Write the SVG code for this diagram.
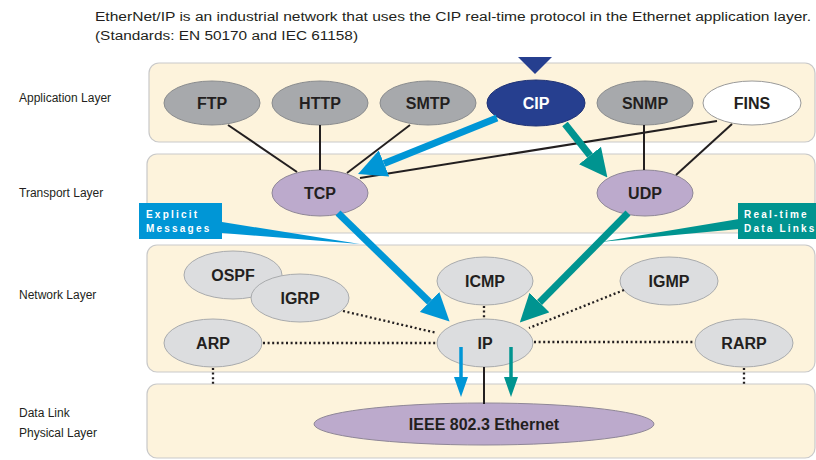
<svg xmlns="http://www.w3.org/2000/svg" width="816" height="460" viewBox="0 0 816 460">
  <defs>
    <style>
      .layer { fill: #fdf3dc; stroke: #c9c9c9; stroke-width: 1.2; }
      .side { font-family: "Liberation Sans", Arial, sans-serif; font-size: 12px; fill: #231f20; }
      .intro { font-family: "Liberation Sans", Arial, sans-serif; font-size: 12.5px; fill: #231f20; }
      .dark { fill: #a7a9ac; stroke: #8a8c8e; stroke-width: 1; }
      .light { fill: #dcdddf; stroke: #a9abad; stroke-width: 1; }
      .purple { fill: #bcaacc; stroke: #8f8797; stroke-width: 1; }
      .navy { fill: #263f8f; stroke: #1f3275; stroke-width: 1; }
      .white { fill: #ffffff; stroke: #9a9a9a; stroke-width: 1; }
      .lbl { font-family: "Liberation Sans", Arial, sans-serif; font-size: 16px; font-weight: bold; fill: #231f20; text-anchor: middle; }
      .lbl-w { fill: #ffffff; }
      .solid { stroke: #231f20; stroke-width: 2; fill: none; }
      .dots { stroke: #231f20; stroke-width: 2.3; fill: none; stroke-dasharray: 2 2.6; }
      .blue { stroke: #0096d6; fill: none; }
      .teal { stroke: #009490; fill: none; }
      .call { font-family: "Liberation Sans", Arial, sans-serif; font-size: 10px; font-weight: bold; fill: #ffffff; letter-spacing: 2.2px; }
    </style>
    <marker id="headBlue" markerUnits="userSpaceOnUse" markerWidth="28" markerHeight="28" refX="0" refY="14" orient="auto">
      <path d="M0,0 L28,14 L0,28 z" fill="#0096d6"/>
    </marker>
    <marker id="headTeal" markerUnits="userSpaceOnUse" markerWidth="28" markerHeight="28" refX="0" refY="14" orient="auto">
      <path d="M0,0 L28,14 L0,28 z" fill="#009490"/>
    </marker>
    <marker id="smallBlue" markerUnits="userSpaceOnUse" markerWidth="20" markerHeight="14" refX="0" refY="7" orient="auto">
      <path d="M0,0 L20,7 L0,14 z" fill="#0096d6"/>
    </marker>
    <marker id="smallTeal" markerUnits="userSpaceOnUse" markerWidth="20" markerHeight="14" refX="0" refY="7" orient="auto">
      <path d="M0,0 L20,7 L0,14 z" fill="#009490"/>
    </marker>
  </defs>

  <rect width="816" height="460" fill="#ffffff"/>

  <!-- intro text -->
  <text class="intro" x="95" y="21" textLength="716" lengthAdjust="spacingAndGlyphs">EtherNet/IP is an industrial network that uses the CIP real-time protocol in the Ethernet application layer.</text>
  <text class="intro" x="95" y="40" textLength="263" lengthAdjust="spacingAndGlyphs">(Standards: EN 50170 and IEC 61158)</text>

  <!-- layer bands -->
  <g id="layers">
    <rect class="layer" x="149" y="63" width="666" height="79" rx="10"/>
    <rect class="layer" x="147" y="154" width="668" height="79" rx="10"/>
    <rect class="layer" x="147" y="245" width="668" height="127" rx="10"/>
    <rect class="layer" x="147" y="384" width="668" height="74" rx="10"/>
  </g>

  <!-- layer names -->
  <g id="layer-names">
    <text class="side" x="19" y="102">Application Layer</text>
    <text class="side" x="19" y="197">Transport Layer</text>
    <text class="side" x="19" y="299">Network Layer</text>
    <text class="side" x="19" y="417">Data Link</text>
    <text class="side" x="19" y="437">Physical Layer</text>
  </g>

  <!-- callout wedges -->
  <g id="callout-pointers">
    <polygon points="222,222 222,233 360,244" fill="#0096d6"/>
    <polygon points="739,219 739,229 600,242" fill="#009490"/>
  </g>

  <!-- application layer -->
  <g id="ftp"><ellipse class="dark" cx="212" cy="103" rx="48" ry="22"/><text class="lbl" x="212" y="109">FTP</text></g>
  <g id="http"><ellipse class="dark" cx="320" cy="103" rx="48" ry="22"/><text class="lbl" x="320" y="109">HTTP</text></g>
  <g id="smtp"><ellipse class="dark" cx="428" cy="103" rx="48" ry="22"/><text class="lbl" x="428" y="109">SMTP</text></g>
  <g id="cip">
    <polygon points="518,57 552,57 535,74" fill="#263f8f"/>
    <ellipse class="navy" cx="536" cy="103" rx="49" ry="23"/><text class="lbl lbl-w" x="536" y="109">CIP</text>
  </g>
  <g id="snmp"><ellipse class="dark" cx="645" cy="103" rx="48" ry="22"/><text class="lbl" x="645" y="109">SNMP</text></g>
  <g id="fins"><ellipse class="white" cx="752" cy="103" rx="49" ry="22"/><text class="lbl" x="752" y="109">FINS</text></g>

  <!-- transport layer -->
  <g id="tcp"><ellipse class="purple" cx="320" cy="193" rx="48" ry="23"/><text class="lbl" x="320" y="199">TCP</text></g>
  <g id="udp"><ellipse class="purple" cx="645" cy="193" rx="48" ry="23"/><text class="lbl" x="645" y="199">UDP</text></g>

  <!-- network layer -->
  <g id="ospf"><ellipse class="light" cx="233" cy="275" rx="49" ry="24"/><text class="lbl" x="233" y="281">OSPF</text></g>
  <g id="igrp"><ellipse class="light" cx="300" cy="298" rx="49" ry="24"/><text class="lbl" x="300" y="304">IGRP</text></g>
  <g id="arp"><ellipse class="light" cx="213" cy="343" rx="49" ry="24"/><text class="lbl" x="213" y="349">ARP</text></g>
  <g id="icmp"><ellipse class="light" cx="485" cy="281" rx="48" ry="24"/><text class="lbl" x="485" y="287">ICMP</text></g>
  <g id="igmp"><ellipse class="light" cx="669" cy="281" rx="49" ry="24"/><text class="lbl" x="669" y="287">IGMP</text></g>
  <g id="ip"><ellipse class="light" cx="485" cy="343" rx="48" ry="24"/><text class="lbl" x="485" y="349">IP</text></g>
  <g id="rarp"><ellipse class="light" cx="744" cy="343" rx="49" ry="24"/><text class="lbl" x="744" y="349">RARP</text></g>

  <!-- data link / physical -->
  <g id="ethernet"><ellipse class="purple" cx="484" cy="424" rx="170" ry="21"/><text class="lbl" x="484" y="430">IEEE 802.3 Ethernet</text></g>

  <!-- callout boxes -->
  <g id="explicit-messages">
    <rect x="139" y="203" width="83" height="36" fill="#0096d6"/>
    <text class="call" x="146" y="218">Explicit</text>
    <text class="call" x="146" y="232">Messages</text>
  </g>
  <g id="realtime-data-links">
    <rect x="738" y="203" width="80" height="36" fill="#009490"/>
    <text class="call" x="744" y="218">Real-time</text>
    <text class="call" x="744" y="232">Data Links</text>
  </g>

  <!-- connectors -->
  <g id="connectors">
    <line class="solid" x1="228" y1="125" x2="297" y2="172"/>
    <line class="solid" x1="320" y1="125" x2="320" y2="170"/>
    <line class="solid" x1="410" y1="125" x2="347" y2="173"/>
    <line class="solid" x1="717" y1="121" x2="360" y2="178"/>
    <line class="solid" x1="644" y1="125" x2="644" y2="170"/>
    <line class="solid" x1="732" y1="124" x2="676" y2="175"/>
    <line class="solid" x1="484" y1="367" x2="484" y2="404"/>

    <line class="dots" x1="343" y1="311" x2="437" y2="333"/>
    <line class="dots" x1="263" y1="343" x2="437" y2="343"/>
    <line class="dots" x1="484" y1="306" x2="484" y2="319"/>
    <line class="dots" x1="624" y1="290" x2="529" y2="328"/>
    <line class="dots" x1="534" y1="342" x2="695" y2="342"/>
    <line class="dots" x1="213" y1="368" x2="213" y2="384"/>
    <line class="dots" x1="744" y1="368" x2="744" y2="384"/>

    <line class="blue" stroke-width="7" x1="497" y1="118" x2="384" y2="163.5" marker-end="url(#headBlue)"/>
    <line class="teal" stroke-width="7" x1="565" y1="124" x2="590" y2="155.5" marker-end="url(#headTeal)"/>
    <line class="blue" stroke-width="7" x1="338" y1="213" x2="429.5" y2="302" marker-end="url(#headBlue)"/>
    <line class="teal" stroke-width="7" x1="628" y1="213" x2="539.5" y2="302.5" marker-end="url(#headTeal)"/>

    <line class="blue" stroke-width="3.5" x1="461" y1="347" x2="461" y2="377" marker-end="url(#smallBlue)"/>
    <line class="teal" stroke-width="3.5" x1="511" y1="347" x2="511" y2="377" marker-end="url(#smallTeal)"/>
  </g>
</svg>
